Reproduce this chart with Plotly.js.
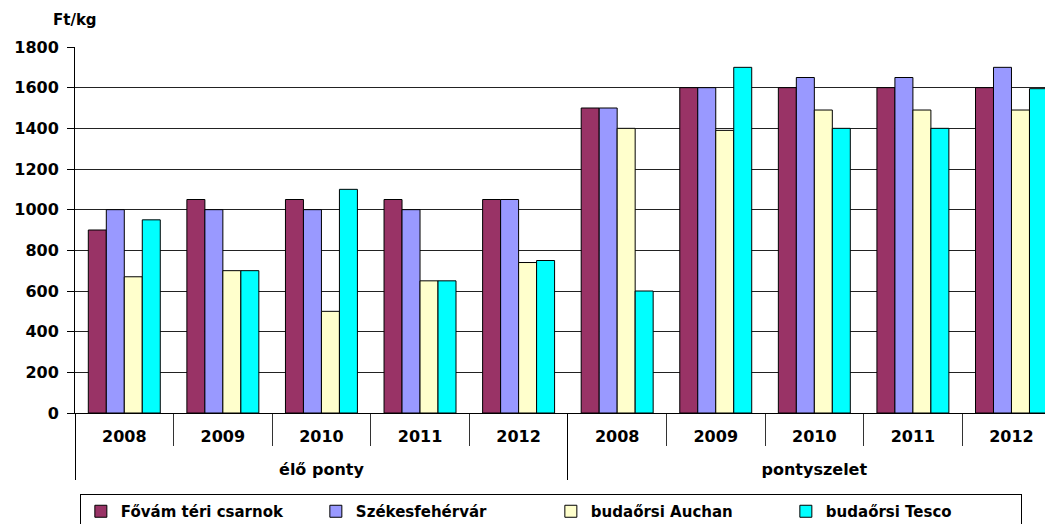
<!DOCTYPE html>
<html>
<head>
<meta charset="utf-8">
<script src="https://cdn.plot.ly/plotly-3.0.1.min.js"></script>
<style>html,body{margin:0;padding:0;background:#fff;overflow:hidden}</style>
</head>
<body>
<div id="chart" style="width:1045px;height:545px"></div>
<script>
const groups = ["élő ponty","élő ponty","élő ponty","élő ponty","élő ponty",
                "pontyszelet","pontyszelet","pontyszelet","pontyszelet","pontyszelet"];
const years = ["2008","2009","2010","2011","2012","2008","2009","2010","2011","2012"];
const seriesNames = ["Fővám téri csarnok","Székesfehérvár","budaőrsi Auchan","budaőrsi Tesco"];
const fovam = [900,1050,1050,1050,1050,1500,1600,1600,1600,1600];
const szekes = [1000,1000,1000,1000,1050,1500,1600,1650,1650,1700];
const auchan = [670,700,500,650,740,1400,1390,1490,1490,1490];
const tesco = [950,700,1100,650,750,600,1700,1400,1400,1595];
const yTicks = [0,200,400,600,800,1000,1200,1400,1600,1800];

const colors = ["#993366","#9999FF","#FFFFCC","#00FFFF"];
const values = [fovam, szekes, auchan, tesco];
const FONT = "DejaVu Sans, Verdana, sans-serif";
// extra blank line under each year label pushes the outer level down
const yearLabels = years.map(y => y + "<br> ");

const data = values.map((v,i)=>({
  type:"bar",
  name: seriesNames[i],
  x:[groups, yearLabels],
  y:v,
  marker:{color:colors[i], line:{color:"#000", width:1}},
  hoverinfo:"skip"
}));

const H = 545;
const layout = {
  width:1045, height:H,
  margin:{l:75, r:0, t:47, b:H-413, pad:0},
  paper_bgcolor:"#fff", plot_bgcolor:"#fff",
  barmode:"group", bargap:0.27, bargroupgap:0,
  font:{family:FONT, size:16, color:"#000", weight:"bold"},
  xaxis:{
    type:"multicategory",
    range:[-0.5, 9.34], autorange:false,
    showline:true, linecolor:"#000", linewidth:1,
    ticks:"outside", ticklen:32, tickcolor:"#333", tickwidth:1,
    ticklabelstandoff:9,
    showdividers:true, dividercolor:"#000", dividerwidth:1,
    tickfont:{family:FONT, size:16, color:"#000", weight:"bold"},
    showgrid:false, zeroline:false, automargin:false
  },
  yaxis:{
    range:[0,1800], autorange:false,
    tickmode:"array", tickvals:yTicks, ticktext:yTicks.map(String),
    showline:true, linecolor:"#000", linewidth:1,
    ticks:"outside", ticklen:7, tickcolor:"#000",
    ticklabelstandoff:5,
    showgrid:true, gridcolor:"#222", gridwidth:1,
    zeroline:false, automargin:false,
    tickfont:{family:FONT, size:16, color:"#000", weight:"bold"}
  },
  showlegend:true,
  legend:{
    orientation:"h", x:0.005, xanchor:"left", y:-(494-413)/366, yanchor:"top",
    bordercolor:"#000", borderwidth:1, bgcolor:"#fff",
    traceorder:"normal",
    entrywidth:190, entrywidthmode:"pixels",
    font:{family:FONT, size:15, color:"#000", weight:"bold"}
  },
  annotations:[{
    text:"Ft/kg", xref:"paper", yref:"paper", x:0, y:(413-20)/366,
    xanchor:"center", yanchor:"middle", showarrow:false,
    font:{family:FONT, size:15, color:"#000", weight:"bold"}
  }]
};

Plotly.newPlot("chart", data, layout, {displayModeBar:false, staticPlot:true});
</script>
</body>
</html>
